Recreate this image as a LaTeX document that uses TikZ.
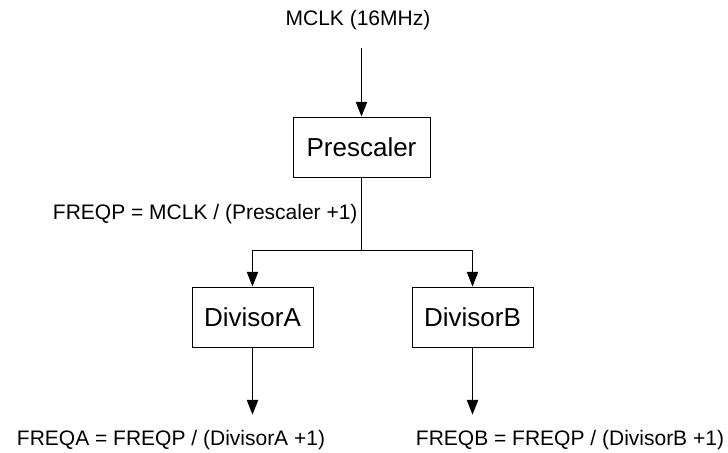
\documentclass[tikz,border=0pt]{standalone}
\usepackage{fontspec}
\setmainfont{Liberation Sans}
\usetikzlibrary{arrows.meta}

\begin{document}
\begin{tikzpicture}[x=0.75pt,y=-0.75pt,line width=0.75pt,
	blk/.style={draw,minimum width=#1,minimum height=45pt,inner sep=0pt,font=\fontsize{19.5}{23}\selectfont},
	lbl/.style={inner sep=0pt,font=\fontsize{15.75}{19}\selectfont},
	tip/.style={-{Triangle[length=11pt,width=8.5pt]}}]
	\useasboundingbox (0,0) rectangle (728,453);
	\node[lbl,anchor=base] (mclk) at (358,26) {MCLK (16MHz)};
	\node[blk=102.75pt] (presc) at (361.5,147) {Prescaler};
	\node[lbl,anchor=base east] (freqp) at (358,219) {FREQP = MCLK / (Prescaler +1)};
	\coordinate (split) at (361.5,250);
	\node[blk=90.75pt] (diva) at (252.5,317) {DivisorA};
	\node[blk=90.75pt] (divb) at (472.5,317) {DivisorB};
	\node[lbl,anchor=base] (freqa) at (171,445) {FREQA = FREQP / (DivisorA +1)};
	\node[lbl,anchor=base] (freqb) at (570,445) {FREQB = FREQP / (DivisorB +1)};
	\draw[tip,shorten <=13pt] (presc.north |- mclk.south) -- (presc.north);
	\draw (presc.south) -- (split);
	\draw[tip] (split) -| (diva.north);
	\draw[tip] (split) -| (divb.north);
	\draw[tip,shorten >=11pt] (diva.south) -- (diva.south |- freqa.north);
	\draw[tip,shorten >=11pt] (divb.south) -- (divb.south |- freqb.north);
\end{tikzpicture}
\end{document}
